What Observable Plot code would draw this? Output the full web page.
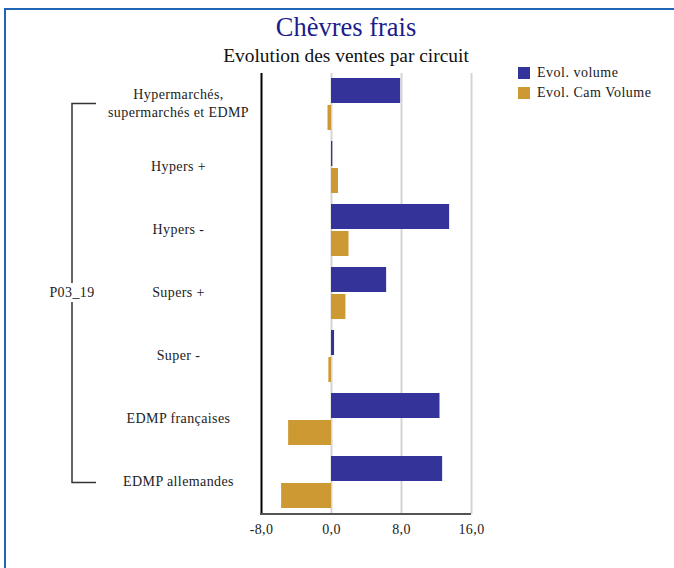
<!DOCTYPE html>
<html>
<head>
<meta charset="utf-8">
<script src="https://cdn.jsdelivr.net/npm/d3@7"></script>
<script src="https://cdn.jsdelivr.net/npm/@observablehq/plot@0.6"></script>
<style>
  html, body { margin: 0; padding: 0; background: #fff; overflow: hidden; }
  #wrap { position: relative; width: 674px; height: 568px; overflow: hidden; }
  #border { position: absolute; left: 4px; top: 8px; width: 700px; height: 600px; border: 2px solid #1f66b5; box-sizing: border-box; }
  #title { position: absolute; left: 0; width: 692px; top: 12px; text-align: center; font-family: "Liberation Serif"; font-size: 26.5px; color: #1c1c8c; }
  #subtitle { position: absolute; left: 0; width: 692px; top: 45px; text-align: center; font-family: "Liberation Serif"; font-size: 19.4px; color: #111; }
  #chart { position: absolute; left: 0; top: 0; }
  #chart svg text { letter-spacing: 0.4px; }
  #legend { position: absolute; left: 518px; top: 63px; font-family: "Liberation Serif"; font-size: 14px; letter-spacing: 0.5px; color: #222; }
  .li { display: flex; align-items: center; height: 20px; }
  .sw { width: 12px; height: 12px; margin-right: 7px; }
</style>
</head>
<body>
<div id="wrap">
  <div id="border"></div>
  <div id="chart"></div>
  <div id="title"></div>
  <div id="subtitle"></div>
  <div id="legend"></div>
</div>
<script>
const titleText = "Chèvres frais";
const subtitleText = "Evolution des ventes par circuit";
const groupLabel = "P03_19";
const categories = [
  "Hypermarchés,\nsupermarchés et EDMP",
  "Hypers +",
  "Hypers -",
  "Supers +",
  "Super -",
  "EDMP françaises",
  "EDMP allemandes"
];
const series = ["Evol. volume", "Evol. Cam Volume"];
const evolVolume = [7.9, 0.15, 13.5, 6.3, 0.35, 12.4, 12.7];
const evolCamVolume = [-0.4, 0.8, 2.0, 1.65, -0.3, -4.9, -5.7];
const xTicks = [-8, 0, 8, 16];
const colors = ["#333399", "#CC9933"];

const data = categories.flatMap((c, i) => [
  {cat: c, series: series[0], value: evolVolume[i]},
  {cat: c, series: series[1], value: evolCamVolume[i]}
]);

const fmt = d => d.toFixed(1).replace(".", ",");
const FONT = "Liberation Serif";

const plot = Plot.plot({
  width: 674,
  height: 568,
  marginTop: 72,
  marginBottom: 54,
  marginLeft: 261,
  marginRight: 203,
  style: {fontFamily: FONT, fontSize: "14px", color: "#222", background: "transparent", overflow: "visible"},
  x: {domain: [-8, 16], ticks: xTicks, tickFormat: fmt, tickSize: 0, tickPadding: 10, label: null},
  y: {domain: series, axis: null, paddingInner: 0.0714, paddingOuter: 0.164},
  fy: {domain: categories, axis: null, padding: 0},
  color: {domain: series, range: colors},
  marks: [
    Plot.ruleX(xTicks.slice(1), {stroke: "#d4d4d4", strokeWidth: 2}),
    Plot.barX(data, {fy: "cat", y: "series", x: "value", fill: "series"}),
    Plot.ruleX([-8], {stroke: "#000", strokeWidth: 2}),
    Plot.text(categories, {fy: d => d, text: d => d, frameAnchor: "left", dx: -83, dy: -2.5, textAnchor: "middle", fontSize: 14, lineHeight: 1.25, fill: "#222"})
  ]
});
document.getElementById("chart").appendChild(plot);

// bottom axis line and bracket, positioned from the scales
const svg = d3.select(plot);
const xs = plot.scale("x");
const fys = plot.scale("fy");
const xAt = v => xs.range[0] + (v - xs.domain[0]) / (xs.domain[1] - xs.domain[0]) * (xs.range[1] - xs.range[0]);
const step = (fys.range[1] - fys.range[0]) / categories.length;
const rowC = i => fys.range[0] + step * (i + 0.5);
const bottom = fys.range[1];

svg.append("line")
  .attr("x1", xAt(xs.domain[0]) - 1).attr("x2", xAt(xs.domain[1]))
  .attr("y1", bottom).attr("y2", bottom)
  .attr("stroke", "#555").attr("stroke-width", 2);

const bx = 72, bx2 = 96;
const yTop = rowC(0), yBot = rowC(categories.length - 1), yMid = (yTop + yBot) / 2;
const g = svg.append("g").attr("stroke", "#333").attr("stroke-width", 1.5).attr("fill", "none");
g.append("path").attr("d", `M${bx2},${yTop}H${bx}V${yMid - 10}`);
g.append("path").attr("d", `M${bx},${yMid + 9}V${yBot}H${bx2}`);
svg.append("text").attr("x", bx).attr("y", yMid).attr("dy", "0.3em")
  .attr("text-anchor", "middle").attr("font-family", FONT).attr("font-size", 14)
  .attr("fill", "#222").text(groupLabel);

document.getElementById("title").textContent = titleText;
document.getElementById("subtitle").textContent = subtitleText;
const leg = document.getElementById("legend");
series.forEach((s, i) => {
  const row = document.createElement("div");
  row.className = "li";
  row.innerHTML = `<span class="sw" style="background:${colors[i]}"></span><span></span>`;
  row.lastChild.textContent = s;
  leg.appendChild(row);
});
</script>
</body>
</html>
